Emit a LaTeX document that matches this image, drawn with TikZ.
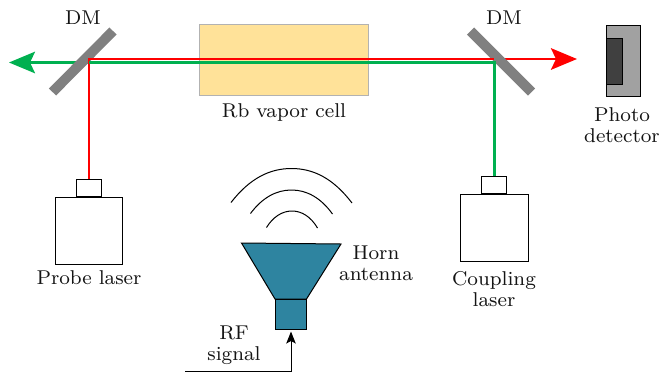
\documentclass[tikz,border=0pt]{standalone}
\usepackage{tikz}
\usetikzlibrary{arrows.meta}
\definecolor{cellyellow}{HTML}{FFE299}
\definecolor{horncolor}{HTML}{2E84A0}
\definecolor{beamgreen}{HTML}{00B050}
\tikzset{
	lbl/.style={font=\fontsize{8}{8.4}\selectfont, align=center, text=black!92, inner sep=0pt},
	box/.style={draw, line width=0.4pt, anchor=north west, inner sep=0pt, minimum width=#1},
	mirror/.style={line width=4pt, color=black!50},
	redbeam/.style={line width=1.05pt, color=red},
	greenbeam/.style={line width=1.05pt, color=beamgreen},
	bigtip/.style={-{Stealth[length=10.4pt, width=8.6pt, inset=2pt]}},
	wave/.style={line width=0.4pt},
}
\begin{document}
\begin{tikzpicture}[x=0.4pt, y=-0.4pt]
		%%%%% START %%%%%
		\useasboundingbox (0, 0) rectangle (660, 374);
		
		% cell
		\node[draw=black!30, fill=cellyellow, line width=0.4pt, anchor=north west, inner sep=0pt, minimum width=67.6pt, minimum height=28.4pt] (cell) at (199, 24) {};
		\node[lbl] (celllabel) at (284, 112) {Rb vapor cell};
		
		% lasers
		\node[box=26.8pt, minimum height=26.8pt] (probe) at (55, 197) {};
		\node[box=10pt, minimum height=6.8pt, anchor=south] (probehead) at (probe.north) {};
		\node[lbl] (probelabel) at (89, 278) {Probe laser};
		\node[box=27pt, minimum height=26.6pt] (coupling) at (460, 194) {};
		\node[box=10pt, minimum height=6.8pt, anchor=south] (couplinghead) at (coupling.north) {};
		\node[lbl] (couplinglabel) at (494, 289.5) {Coupling\\laser};
		
		% detector
		\node[draw, fill=black!37, line width=0.4pt, anchor=north west, inner sep=0pt, minimum width=13.6pt, minimum height=28.4pt] (detector) at (605.5, 25) {};
		\node[draw, fill=black!75, line width=0.4pt, anchor=north west, inner sep=0pt, minimum width=6.4pt, minimum height=18.4pt] (sensor) at (605.5, 38) {};
		\node[lbl] (detectorlabel) at (622, 125.5) {Photo\\detector};
		
		% beams under the mirrors
		\coordinate (leftspot) at (89, 62.5);
		\coordinate (rightspot) at (494, 59);
		\coordinate (greentip) at (9, 62.5);
		\coordinate (redtip) at (577, 59);
		\draw[greenbeam, bigtip] (leftspot) -- (greentip);
		\draw[redbeam, bigtip] (rightspot) -- (redtip);
		
		% mirrors
		\coordinate (dma) at (52.5, 92);
		\coordinate (dmb) at (113, 31);
		\coordinate (dmc) at (470.5, 31);
		\coordinate (dmd) at (531.5, 92);
		\draw[mirror] (dma) -- (dmb);
		\draw[mirror] (dmc) -- (dmd);
		\node[lbl] (dmleft) at (83, 18) {DM};
		\node[lbl] (dmright) at (504, 18) {DM};
		
		% beams over the mirrors
		\draw[redbeam] (probehead.north) |- (rightspot);
		\draw[greenbeam] (couplinghead.north) |- (leftspot);
		
		% horn
		\draw[fill=horncolor, line width=0.4pt] (241.5, 243) -- (341, 244) -- (306.5, 299) -- (275, 299) -- cycle;
		\node[draw, fill=horncolor, line width=0.4pt, anchor=north west, inner sep=0pt, minimum width=12.4pt, minimum height=12pt] (feed) at (275, 299) {};
		\node[lbl] (hornlabel) at (376, 263) {Horn\\antenna};
		\draw[wave] (231, 202.5) .. controls (250, 178) and (270, 168.5) .. (291.5, 168.5) .. controls (313, 168.5) and (333, 178) .. (352, 203);
		\draw[wave] (250.5, 213.5) .. controls (262, 198) and (276, 190) .. (291.5, 190) .. controls (307, 190) and (321, 198) .. (332.5, 214);
		\draw[wave] (266.5, 227.5) .. controls (273, 217) and (282, 211) .. (292, 211) .. controls (302, 211) and (311, 217) .. (317.5, 228);
		
		% rf input
		\coordinate (rfstart) at (185, 371);
		\node[lbl] (rflabel) at (234, 345.5) {RF\\signal};
		\draw[line width=0.4pt, -{Stealth[length=4.8pt, width=3.8pt, inset=1pt]}] (rfstart) -| ([yshift=-0.6pt]feed.south);
		
		%%%%% END %%%%%
	\end{tikzpicture}
\end{document}
